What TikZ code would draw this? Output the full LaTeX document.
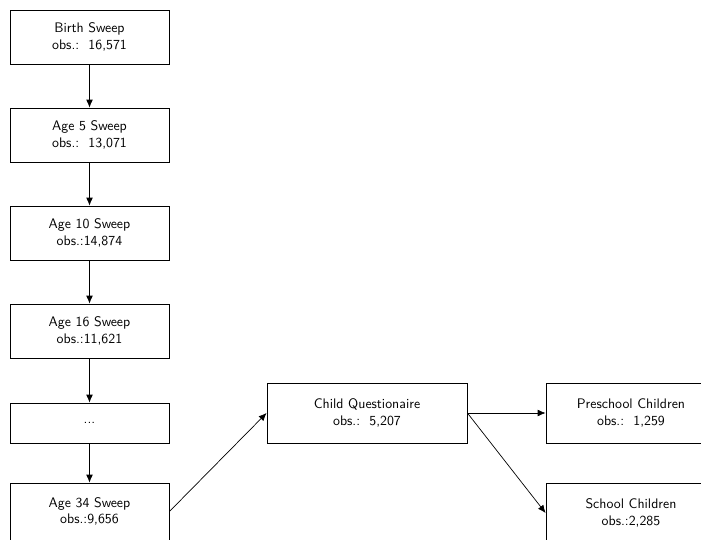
\documentclass[tikz,border=0pt]{standalone}
\usepackage{amsmath, amssymb, tikz}
\usetikzlibrary{arrows.meta}
\renewcommand{\familydefault}{\sfdefault}

\begin{document}
\begin{tikzpicture}[x=0.254mm, y=-0.254mm,
        sweep/.style={draw, line width=0.6pt, align=center, minimum width=159*0.254mm, minimum height=54*0.254mm},
        sub/.style={draw, line width=0.6pt, align=center, minimum width=200*0.254mm, minimum height=60*0.254mm},
        link/.style={-{Latex[length=2mm, width=1.7mm]}, line width=0.5pt}]
        \useasboundingbox (0,0) rectangle (701,540);
        \node[sweep] (birth) at (89.5,37) {Birth Sweep\\obs.:\ \ 16,571};
        \node[sweep] (age5) at (89.5,135) {Age 5 Sweep\\obs.:\ \ 13,071};
        \node[sweep] (age10) at (89.5,233) {Age 10 Sweep\\obs.:14,874};
        \node[sweep] (age16) at (89.5,331) {Age 16 Sweep\\obs.:11,621};
        \node[sweep, minimum height=40*0.254mm] (dots) at (89.5,423) {...};
        \node[sweep, minimum height=57*0.254mm] (age34) at (89.5,511.5) {Age 34 Sweep\\obs.:9,656};
        \node[sub] (child) at (367,413) {Child Questionaire\\obs.:\ \ 5,207};
        \node[sub, minimum width=170*0.254mm] (pre) at (631,413) {Preschool Children\\obs.:\ \ 1,259};
        \node[sub, minimum width=170*0.254mm] (school) at (631,513) {School Children\\obs.:2,285};
        \draw[link] (birth) -- (age5);
        \draw[link] (age5) -- (age10);
        \draw[link] (age10) -- (age16);
        \draw[link] (age16) -- (dots);
        \draw[link] (dots) -- (age34);
        \draw[link] (age34.east) -- (child.west);
        \draw[link] (child.east) -- (pre.west);
        \draw[link] (child.east) -- (school.west);
    \end{tikzpicture}
\end{document}
